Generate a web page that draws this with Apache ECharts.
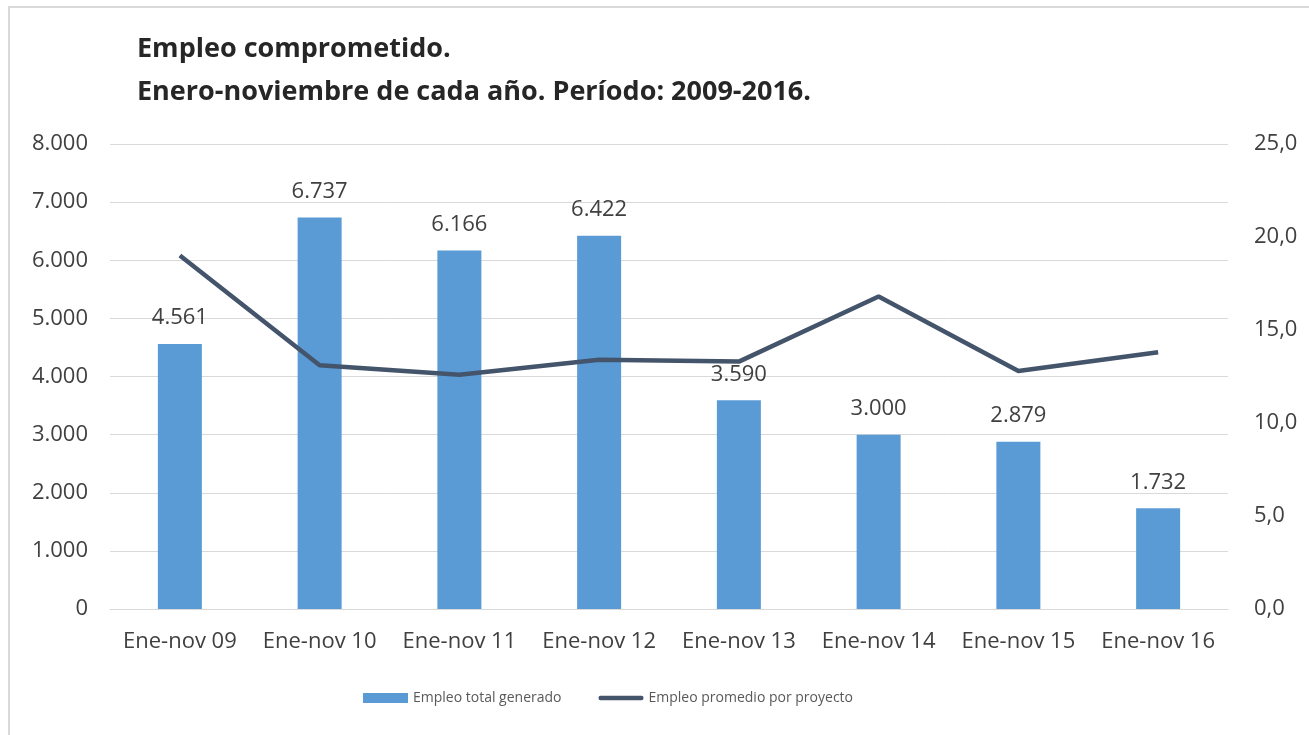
<!DOCTYPE html>
<html>
<head>
<meta charset="utf-8">
<script src="https://cdn.jsdelivr.net/npm/echarts@6/dist/echarts.min.js"></script>
<style>
  html, body { margin: 0; padding: 0; background: #fff; }
  #frame { position: absolute; left: 8px; top: 6px; width: 1320px; height: 740px; border: 2px solid #d9d9d9; box-sizing: border-box; }
  #chart { width: 1309px; height: 735px; }
</style>
</head>
<body>
<div id="frame"></div>
<div id="chart"></div>
<script>
// datos
const categories = ['Ene-nov 09', 'Ene-nov 10', 'Ene-nov 11', 'Ene-nov 12', 'Ene-nov 13', 'Ene-nov 14', 'Ene-nov 15', 'Ene-nov 16']
const empleoTotal = [4561, 6737, 6166, 6422, 3590, 3000, 2879, 1732]
const empleoPromedio = [19.0, 13.1, 12.6, 13.4, 13.3, 16.8, 12.8, 13.8]

const font = 'Open Sans'

// 4561 -> 4.561
const fmtMiles = (v) => v.toString().replace(/\B(?=(\d{3})+(?!\d))/g, '.')

const chart = echarts.init(document.getElementById('chart'))

chart.setOption({
  animation: false,
  title: {
    text: 'Empleo comprometido.\nEnero-noviembre de cada año. Período: 2009-2016.',
    left: 132,
    top: 23,
    textStyle: {
      fontFamily: font,
      fontSize: 27,
      fontWeight: 'bold',
      color: '#262626',
      lineHeight: 43,
    },
  },
  legend: {
    bottom: 25,
    left: 358,
    itemGap: 37,
    itemWidth: 45,
    itemHeight: 10,
    textStyle: { fontFamily: font, fontSize: 14, color: '#595959' },
    data: [
      { name: 'Empleo total generado', icon: 'rect' },
      { name: 'Empleo promedio por proyecto', icon: 'path://M2,0 L46,0 Q48,0 48,2.5 Q48,5 46,5 L2,5 Q0,5 0,2.5 Q0,0 2,0 Z' },
    ],
  },
  grid: {
    left: 110,
    right: 81,
    top: 144,
    bottom: 126,
  },
  xAxis: {
    type: 'category',
    data: categories,
    axisLine: { lineStyle: { color: '#d9d9d9' } },
    axisTick: { show: false },
    axisLabel: { interval: 0, fontFamily: font, fontSize: 22, color: '#404040', margin: 22 },
  },
  yAxis: [
    {
      type: 'value',
      min: 0,
      max: 8000,
      interval: 1000,
      axisLine: { show: false },
      axisTick: { show: false },
      axisLabel: {
        fontFamily: font,
        fontSize: 22,
        color: '#404040',
        margin: 22,
        formatter: (v) => fmtMiles(v),
      },
      splitLine: { lineStyle: { color: '#d9d9d9' } },
    },
    {
      type: 'value',
      min: 0,
      max: 25,
      interval: 5,
      axisLine: { show: false },
      axisTick: { show: false },
      axisLabel: {
        fontFamily: font,
        fontSize: 22,
        color: '#404040',
        margin: 26,
        formatter: (v) => v.toFixed(1).replace('.', ','),
      },
      splitLine: { show: false },
    },
  ],
  series: [
    {
      name: 'Empleo total generado',
      type: 'bar',
      data: empleoTotal,
      barWidth: 44,
      itemStyle: { color: '#5b9bd5' },
      label: {
        show: true,
        position: 'top',
        distance: 15,
        fontFamily: font,
        fontSize: 22,
        color: '#404040',
        formatter: (p) => fmtMiles(p.value),
      },
    },
    {
      name: 'Empleo promedio por proyecto',
      type: 'line',
      yAxisIndex: 1,
      data: empleoPromedio,
      symbol: 'none',
      lineStyle: { width: 4.5, color: '#44546a' },
      itemStyle: { color: '#44546a' },
    },
  ],
})
</script>
</body>
</html>
